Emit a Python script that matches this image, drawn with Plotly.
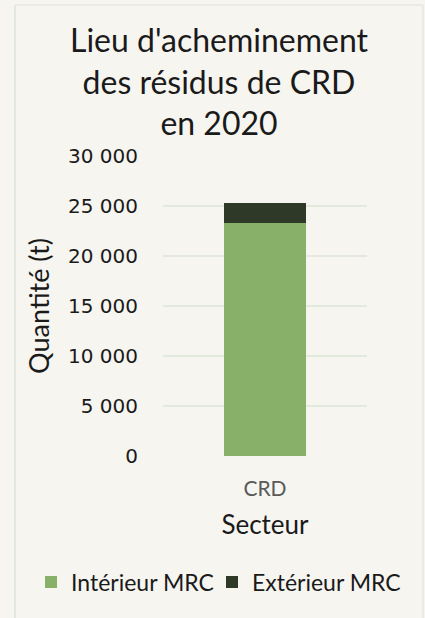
import plotly.graph_objects as go

categories = ["CRD"]
series_names = ["Intérieur MRC", "Extérieur MRC"]
interieur = [23300]
exterieur = [2000]
tick_vals = [0, 5000, 10000, 15000, 20000, 25000, 30000]
tick_text = ["0", "5 000", "10 000", "15 000", "20 000", "25 000", "30 000"]

W, H = 425, 618
L, R, T, B = 163, 58, 156, 162
pw, ph = W - L - R, H - T - B

def px_x(x):
    return (x - L) / pw

def px_y(y):
    return (H - B - y) / ph

FONT = "Lato"
TICKFONT = "DejaVu Sans"
GREEN = "#88b068"
DARK = "#2e3a27"
BG = "#f6f5f0"
GRID = "#e3e9dc"

fig = go.Figure()
fig.add_trace(go.Bar(x=categories, y=interieur, name=series_names[0], legend="legend",
                     marker=dict(color=GREEN, line=dict(width=0)), width=0.4))
fig.add_trace(go.Bar(x=categories, y=exterieur, name=series_names[1], legend="legend2",
                     marker=dict(color=DARK, line=dict(width=0)), width=0.4))

legend_common = dict(orientation="h", xanchor="left", yanchor="middle",
                     font=dict(size=23, family=FONT, color="#1a1a1a"),
                     bgcolor="rgba(0,0,0,0)", itemwidth=30)

fig.update_layout(
    width=W, height=H,
    margin=dict(l=L, r=R, t=T, b=B, autoexpand=False),
    barmode="stack",
    paper_bgcolor=BG, plot_bgcolor=BG,
    font=dict(family=FONT, color="#1a1a1a"),
    title=dict(text="Lieu d'acheminement<br>des résidus de CRD<br>en 2020",
               x=219 / W, xanchor="center", xref="container",
               y=1 - 52 / H, yanchor="top", yref="container",
               font=dict(size=32, family=FONT, color="#1a1a1a")),
    showlegend=True,
    legend=dict(x=px_x(31), y=px_y(582), **legend_common),
    legend2=dict(x=px_x(212), y=px_y(582), **legend_common),
    xaxis=dict(showgrid=False, showline=False, zeroline=False,
               ticks="", ticklabelstandoff=18,
               tickfont=dict(size=21, color="#595959", family=FONT),
               title=dict(text="Secteur", font=dict(size=26, color="#1a1a1a"), standoff=16),
               fixedrange=True),
    yaxis=dict(range=[0, 30000], tickvals=tick_vals, ticktext=tick_text,
               showgrid=True, gridcolor=GRID, gridwidth=2, zeroline=False,
               showline=False, ticks="", ticklabelstandoff=24,
               tickfont=dict(size=20, color="#1a1a1a", family=TICKFONT),
               title=dict(text="Quantité (t)", font=dict(size=27, color="#1a1a1a"), standoff=10),
               fixedrange=True),
    shapes=[
        dict(type="line", xref="paper", yref="paper",
             x0=px_x(15), x1=px_x(15), y0=px_y(5), y1=px_y(H + 5),
             line=dict(color=GRID, width=2)),
        dict(type="line", xref="paper", yref="paper",
             x0=px_x(15), x1=px_x(423), y0=px_y(5), y1=px_y(5),
             line=dict(color=GRID, width=1.5)),
        dict(type="line", xref="paper", yref="paper",
             x0=px_x(423), x1=px_x(423), y0=px_y(5), y1=px_y(H + 5),
             line=dict(color=GRID, width=1.5)),
    ],
)

fig.write_html("out.html", config={"displayModeBar": False},
               post_script="document.body.style.margin='0';document.body.style.background='%s';" % BG)
